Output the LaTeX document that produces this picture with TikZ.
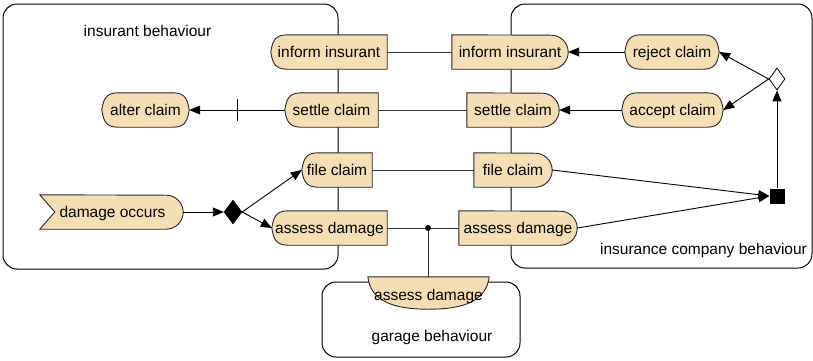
\documentclass[tikz,border=0pt]{standalone}
\usepackage{fontspec}
\setmainfont{Liberation Sans}
\usetikzlibrary{arrows.meta,shapes.geometric}
\pgfdeclarelayer{lanes}
\pgfdeclarelayer{shapes}
\pgfsetlayers{lanes,shapes,main}
\definecolor{actfill}{HTML}{F5DEB3}
\newcommand\actfont{\fontsize{15.5}{18}\selectfont}
% left and right ends of an action outline
\newcommand\Ls[1]{(#1.north west) -- (#1.south west)}
\newcommand\Lk[1]{([xshift=16pt]#1.north west) .. controls ([xshift=3pt]#1.north west) and ([xshift=1.5pt,yshift=9pt]#1.west) .. (#1.west) .. controls ([xshift=1.5pt,yshift=-9pt]#1.west) and ([xshift=3pt]#1.south west) .. ([xshift=16pt]#1.south west)}
\newcommand\Lv[1]{(#1.north west) -- ([xshift=15pt]#1.west) -- (#1.south west)}
\newcommand\Rs[1]{(#1.south east) -- (#1.north east)}
\newcommand\Rr[1]{([xshift=-17pt]#1.south east) arc[start angle=-90,end angle=90,radius=17pt]}
\newcommand\Rk[1]{([xshift=-16pt]#1.south east) .. controls ([xshift=-3pt]#1.south east) and ([xshift=-1.5pt,yshift=-9pt]#1.east) .. (#1.east) .. controls ([xshift=-1.5pt,yshift=9pt]#1.east) and ([xshift=-3pt]#1.north east) .. ([xshift=-16pt]#1.north east)}
\newcommand\actoutline[3]{\begin{pgfonlayer}{shapes}\filldraw[actline] #2{#1} -- #3{#1} -- cycle;\end{pgfonlayer}}
\tikzset{
  act/.style={rectangle, minimum height=34pt, inner sep=0pt, text height=12pt, text depth=2pt, font=\actfont},
  actline/.style={draw=black!85, fill=actfill, line width=0.9pt},
  flow/.style={draw=black, line width=0.9pt, -{Triangle[length=11pt,width=9pt]}},
  link/.style={draw=black!80, line width=0.9pt},
  lane/.style={draw=black, line width=1pt, rounded corners=14pt},
  lanelabel/.style={anchor=base, font=\actfont, inner sep=0pt},
}
\begin{document}
\begin{tikzpicture}[x=1pt,y=-1pt]
\useasboundingbox (0,0) rectangle (813,360);

% swimlanes
\begin{pgfonlayer}{lanes}
  \draw[lane] (3,4) rectangle (338,269);
  \draw[lane] (511,4) rectangle (812,268);
  \draw[lane] (322,282) rectangle (520,357);
\end{pgfonlayer}
\node[lanelabel] (lanei) at (147.5,36) {insurant behaviour};
\node[lanelabel] (lanec) at (703.5,254) {insurance company behaviour};
\node[lanelabel] (laneg) at (432,341) {garage behaviour};

% insurant actions
\node[act, minimum width=116pt] (informL) at (329,52) {inform insurant};
\node[act, minimum width=93pt] (settleL) at (331.5,110) {settle claim};
\node[act, minimum width=87pt] (alter) at (145.5,110) {alter claim};
\node[act, minimum width=70pt] (fileL) at (337,170) {file claim};
\node[act, minimum width=115pt] (assessL) at (329.5,228) {assess damage};
\node[act, minimum width=143pt] (damage) at (111.5,212) {\hspace*{2pt}damage occurs};

% insurance company actions
\node[act, minimum width=116pt] (informR) at (510,52) {inform insurant};
\node[act, minimum width=92pt] (settleR) at (513,110) {settle claim};
\node[act, minimum width=78pt] (fileR) at (513,170) {file claim};
\node[act, minimum width=118pt] (assessR) at (518,228) {assess damage};
\node[act, minimum width=94pt] (reject) at (672,52) {reject claim};
\node[act, minimum width=101pt] (accept) at (672.5,110) {accept claim};

% garage action
\node[act, minimum width=121pt, minimum height=32pt, text height=16pt, text depth=2pt] (gact) at (428.5,293) {assess damage};

\actoutline{informL}{\Lk}{\Rs}
\actoutline{settleL}{\Lk}{\Rs}
\actoutline{alter}{\Lk}{\Rk}
\actoutline{fileL}{\Lk}{\Rs}
\actoutline{assessL}{\Lk}{\Rs}
\actoutline{damage}{\Lv}{\Rr}
\actoutline{informR}{\Ls}{\Rr}
\actoutline{settleR}{\Ls}{\Rr}
\actoutline{fileR}{\Ls}{\Rr}
\actoutline{assessR}{\Ls}{\Rr}
\actoutline{reject}{\Lk}{\Rk}
\actoutline{accept}{\Lk}{\Rk}
\begin{pgfonlayer}{shapes}
  \filldraw[actline] (gact.north west) -- (gact.north east)
    .. controls ([xshift=-3pt,yshift=-24pt]gact.north east) and ([xshift=36pt]gact.south) .. (gact.south)
    .. controls ([xshift=-36pt]gact.south) and ([xshift=3pt,yshift=-24pt]gact.north west) .. (gact.north west) -- cycle;
\end{pgfonlayer}

% control nodes
\node[diamond, draw, fill=black, inner sep=0pt, minimum width=18pt, minimum height=24pt] (fork) at (233,212) {};
\node[diamond, draw, fill=white, line width=0.8pt, inner sep=0pt, minimum width=16pt, minimum height=22pt] (merge) at (777,79) {};
\node[rectangle, fill=black, inner sep=0pt, minimum size=15pt] (join) at (777,196) {};
\node[circle, fill=black, inner sep=0pt, minimum size=6pt] (jn) at (428,228) {};

% links between the lanes
\draw[link] (informL.east) -- (informR.west);
\draw[link] (settleL.east) -- (settleR.west);
\draw[link] (fileL.east) -- (fileR.west);
\draw[link] (assessL.east) -- (jn) -- (assessR.west);
\draw[link] (jn) -- (jn |- gact.north);

% control flow
\draw[flow] (damage.east) -- (fork.west);
\draw[flow] (fork.east) -- (fileL.west);
\draw[flow] (fork.east) -- (assessL.west);
\draw[flow] (fileR.east) -- (join.west);
\draw[flow] (assessR.east) -- (join.west);
\draw[flow] (join.north) -- (merge.south);
\draw[flow] (merge.west) -- (reject.east);
\draw[flow] (merge.west) -- (accept.east);
\draw[flow] (reject.west) -- (informR.east);
\draw[flow] (accept.west) -- (settleR.east);
\draw[flow] (settleL.west) -- coordinate (tk) (alter.east);
\draw[link, draw=black] ([yshift=11pt]tk) -- ([yshift=-11pt]tk);
\end{tikzpicture}
\end{document}
